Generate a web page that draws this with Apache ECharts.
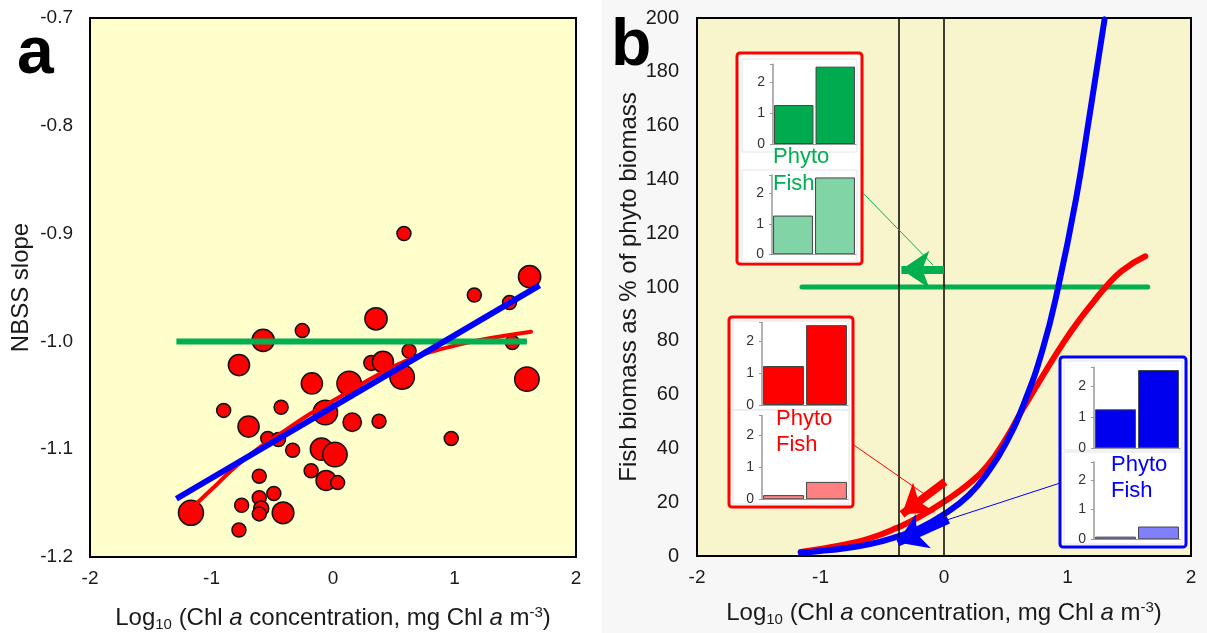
<!DOCTYPE html>
<html><head><meta charset="utf-8">
<script src="https://cdn.jsdelivr.net/npm/echarts@6/dist/echarts.min.js"></script>
<style>html,body{margin:0;padding:0;background:#fff}#c{width:1207px;height:633px}</style>
</head><body><div id="c"></div>
<script>
const FONT = '"Liberation Sans", Arial, sans-serif';

// ---------- Panel a data ----------
const aX = [-1.169,-0.774,-0.752,-0.607,-0.591,-0.607,-0.411,-0.487,-0.607,-0.900,
            -0.695,-0.774,-0.575,-0.253,-0.427,-0.537,-0.449,-0.332,-0.174,-0.063,
            -0.095,0.016,-0.180,-0.057,0.038,0.133,0.158,0.379,0.316,0.411,
            0.569,0.626,0.354,0.973,1.596,1.476,0.584,1.618,1.163,1.453];
const aY = [-1.159,-1.175,-1.152,-1.145,-1.155,-1.160,-1.159,-1.141,-1.125,-1.064,
            -1.079,-1.022,-0.999,-0.990,-1.061,-1.090,-1.091,-1.101,-1.039,-1.066,
            -1.100,-1.105,-1.120,-1.129,-1.131,-1.039,-1.075,-1.074,-1.020,-1.019,
            -1.033,-1.009,-0.979,-1.090,-1.035,-1.001,-0.900,-0.940,-0.957,-0.964];
// relative weight of each sample (0 = smallest bubble, 1 = largest)
const aWeight = [1.0,0,0,0,0.1,0,0.7,0,0,0,
                 0.65,0.65,0.75,0,0,0,0,0,0.65,0.95,
                 0.75,0.95,0,0.55,0,0.95,0.4,0,0.1,0.65,
                 0.95,0,0.75,0,0.95,0,0,0.75,0,0];
const aLinX = [-1.289, 1.700];
const aLinY = [-1.146, -0.948];
const aCurveX = [-1.11,-0.95,-0.8,-0.6,-0.4,-0.2,0,0.2,0.4,0.6,0.8,1.0,1.2,1.4,1.63];
const aCurveY = [-1.149,-1.132,-1.116,-1.098,-1.083,-1.068,-1.055,-1.042,-1.029,-1.018,-1.010,-1.004,-0.999,-0.995,-0.991];
const aRefX = [-1.289, 1.596];
const aRefY = [-1.0, -1.0];

// ---------- Panel b data ----------
const bBlueX = [-1.16,-1.0,-0.8,-0.6,-0.38,-0.2,0,0.2,0.35,0.5,0.65,0.8,0.925,1.066,1.176,1.30];
const bBlueY = [1.3,1.9,2.9,4.4,7.2,10.3,15.5,22.6,30.8,41.8,57,77,100,132,163,199.5];
const bRedX = [-1.16,-1.0,-0.8,-0.6,-0.38,-0.2,0,0.2,0.35,0.5,0.63,0.8,0.97,1.1,1.22,1.29,1.44,1.63];
const bRedY = [1.5,2.6,4.3,6.6,10.5,14.5,20.2,26.8,33.5,43.5,54,67,79.5,88,95,99,106,111.4];
const bRefX = [-1.15, 1.65];
const bRefY = [100, 100];
const bMarkX = [-0.372, 0];
// arrows: [x1, y1, x2, y2]
const arrowGreen = [0.0, 106.5, -0.345, 106.5];
const arrowRed   = [0.008, 27.6, -0.34, 15.5];
const arrowBlue  = [0.035, 13.4, -0.375, 5.0];
// connectors from insets to arrows
const connGreen = [-0.653, 134.8, -0.089, 108.2];
const connRed   = [-0.732, 41.3, -0.168, 23.3];
const connBlue  = [0.945, 27.2, -0.25, 9.3];

// ---------- Inset bar data ----------
const insetCats = ['low', 'high'];
const greenPhyto = [1.27, 2.52];
const greenFish  = [1.27, 2.52];
const redPhyto   = [1.23, 2.52];
const redFish    = [0.13, 0.54];
const bluePhyto  = [1.25, 2.51];
const blueFish   = [0.09, 0.43];

const xTicksA = [-2, 2, 1];
const yTicksA = [-1.2, -0.7, 0.1];
const yTicksB = [0, 200, 20];

const GREEN = '#00B050', RED = '#FF0000', BLUE = '#0000FF';

const chart = echarts.init(document.getElementById('c'), null, {renderer: 'canvas'});

const xName = '{n|Log}{s|10}{n| (Chl }{i|a}{n| concentration, mg Chl }{i|a}{n| m}{p|-3}{n|)}';
const nameRich = {
  n: {fontSize: 24, fontFamily: FONT, color: '#1a1a1a'},
  i: {fontSize: 24, fontFamily: FONT, color: '#1a1a1a', fontStyle: 'italic'},
  s: {fontSize: 15, fontFamily: FONT, color: '#1a1a1a', padding: [12, 0, 0, 0]},
  p: {fontSize: 15, fontFamily: FONT, color: '#1a1a1a', padding: [0, 0, 11, 0]}
};

function mainX(gi, gap) {
  return {
    type: 'value', gridIndex: gi, min: xTicksA[0], max: xTicksA[1], interval: xTicksA[2],
    axisLine: {show: false}, axisTick: {show: false}, splitLine: {show: false},
    axisLabel: {fontSize: 19, fontFamily: FONT, color: '#1a1a1a', margin: 12},
    name: xName, nameLocation: 'middle', nameGap: gap,
    nameTextStyle: {fontSize: 24, fontFamily: FONT, color: '#1a1a1a', rich: nameRich}
  };
}

const insetGrids = [
  {left: 773, top: 64.2, width: 83, height: 79.8},
  {left: 772, top: 175, width: 84, height: 79.3},
  {left: 762, top: 322.6, width: 86, height: 82.4},
  {left: 762, top: 415.6, width: 86, height: 83.7},
  {left: 1094, top: 367.2, width: 86, height: 81.1},
  {left: 1094, top: 462.1, width: 86, height: 77.2}
];
const insetData = [
  [greenPhyto, '#00AA4E'], [greenFish, '#80D4A6'],
  [redPhyto, '#FF0000'], [redFish, '#FF8080'],
  [bluePhyto, '#0000EE'], [blueFish, '#8080FF']
];

const grids = [
  {left: 90, top: 18, width: 486, height: 539, show: true, backgroundColor: '#FFFFCC', borderColor: '#000', borderWidth: 2},
  {left: 697, top: 18, width: 494, height: 538, show: true, backgroundColor: '#F8F5CC', borderColor: '#000', borderWidth: 2}
].concat(insetGrids).map(g => Object.assign({outerBoundsMode: 'none', containLabel: false}, g));

const xAxes = [mainX(0, 48), mainX(1, 44)];
const yAxes = [
  {type: 'value', gridIndex: 0, min: yTicksA[0], max: yTicksA[1], interval: yTicksA[2],
   axisLine: {show: false}, axisTick: {show: false}, splitLine: {show: false},
   axisLabel: {fontSize: 19, fontFamily: FONT, color: '#1a1a1a', margin: 17, formatter: v => v.toFixed(1)},
   name: 'NBSS slope', nameLocation: 'middle', nameGap: 57,
   nameTextStyle: {fontSize: 24, fontFamily: FONT, color: '#1a1a1a'}},
  {type: 'value', gridIndex: 1, min: yTicksB[0], max: yTicksB[1], interval: yTicksB[2],
   axisLine: {show: false}, axisTick: {show: false}, splitLine: {show: false},
   axisLabel: {fontSize: 20, fontFamily: FONT, color: '#1a1a1a', margin: 18},
   name: 'Fish biomass as % of phyto biomass', nameLocation: 'middle', nameGap: 56,
   nameTextStyle: {fontSize: 24, fontFamily: FONT, color: '#1a1a1a'}}
];
insetGrids.forEach((g, k) => {
  xAxes.push({type: 'category', gridIndex: 2 + k, data: insetCats, z: 8,
    axisLine: {show: true, lineStyle: {color: '#999', width: 1}}, axisTick: {show: false}, axisLabel: {show: false}});
  yAxes.push({type: 'value', gridIndex: 2 + k, min: 0, max: 2.6, interval: 1, z: 8,
    axisLine: {show: true, lineStyle: {color: '#999', width: 1.5}},
    axisTick: {show: true, length: 3, lineStyle: {color: '#999'}},
    splitLine: {show: false},
    axisLabel: {fontSize: 14, fontFamily: FONT, color: '#333', margin: 8,
      formatter: v => (v <= 2 ? String(v) : '')}});
});

const series = [];
// Panel a
series.push({
  type: 'scatter', xAxisIndex: 0, yAxisIndex: 0, z: 2,
  data: aX.map((x, i) => [x, aY[i], aWeight[i]]),
  symbolSize: d => 14 + 11 * d[2],
  itemStyle: {color: RED, borderColor: '#111', borderWidth: 1.5, opacity: 1}
});
series.push({type: 'line', xAxisIndex: 0, yAxisIndex: 0, z: 3, showSymbol: false, smooth: 0.5,
  data: aCurveX.map((x, i) => [x, aCurveY[i]]), lineStyle: {color: RED, width: 4, cap: 'round'}});
series.push({type: 'line', xAxisIndex: 0, yAxisIndex: 0, z: 3, showSymbol: false,
  data: aRefX.map((x, i) => [x, aRefY[i]]), lineStyle: {color: GREEN, width: 6}});
series.push({type: 'line', xAxisIndex: 0, yAxisIndex: 0, z: 4, showSymbol: false,
  data: aLinX.map((x, i) => [x, aLinY[i]]), lineStyle: {color: BLUE, width: 6}});

// Panel b
series.push({type: 'line', xAxisIndex: 1, yAxisIndex: 1, z: 2, showSymbol: false,
  data: bRefX.map((x, i) => [x, bRefY[i]]), lineStyle: {color: GREEN, width: 5, cap: 'round'}});
series.push({type: 'line', xAxisIndex: 1, yAxisIndex: 1, z: 3, showSymbol: false, smooth: 0.5,
  data: bRedX.map((x, i) => [x, bRedY[i]]), lineStyle: {color: RED, width: 6, cap: 'round'}});
series.push({type: 'line', xAxisIndex: 1, yAxisIndex: 1, z: 4, showSymbol: false, smooth: 0.5,
  data: bBlueX.map((x, i) => [x, bBlueY[i]]), lineStyle: {color: BLUE, width: 6, cap: 'round'},
  markLine: {silent: true, symbol: ['none', 'none'], label: {show: false},
    lineStyle: {color: '#000', width: 1.5, type: 'solid'},
    data: bMarkX.map(v => ({xAxis: v}))}});

function connector(c, color) {
  return {type: 'lines', coordinateSystem: 'cartesian2d', xAxisIndex: 1, yAxisIndex: 1, z: 5,
    data: [{coords: [[c[0], c[1]], [c[2], c[3]]]}],
    lineStyle: {color: color, width: 1, opacity: 1}};
}
function arrow(c, color) {
  return {type: 'lines', coordinateSystem: 'cartesian2d', xAxisIndex: 1, yAxisIndex: 1, z: 6,
    data: [{coords: [[c[0], c[1]], [c[2], c[3]]]}],
    symbol: ['none', 'arrow'], symbolSize: 28,
    lineStyle: {color: color, width: 8, opacity: 1, cap: 'butt'}};
}
series.push(connector(connGreen, GREEN), connector(connRed, RED), connector(connBlue, BLUE));
series.push(arrow(arrowGreen, GREEN), arrow(arrowRed, RED), arrow(arrowBlue, BLUE));

// Inset bars
insetData.forEach((d, k) => {
  series.push({type: 'bar', xAxisIndex: 2 + k, yAxisIndex: 2 + k, z: 5,
    data: d[0], barCategoryGap: '5%',
    itemStyle: {color: d[1], borderColor: '#444', borderWidth: 1}});
});

function frame(x, y, w, h, stroke) {
  return {type: 'rect', z: 1, shape: {x: x, y: y, width: w, height: h, r: 3},
    style: {fill: '#fff', stroke: stroke, lineWidth: 3}};
}
function panel(x, y, w, h) {
  return {type: 'rect', z: 1, shape: {x: x, y: y, width: w, height: h},
    style: {fill: '#fff', stroke: '#e4e4e4', lineWidth: 1}};
}
function label(x, y, t, color, size) {
  return {type: 'text', z: 10, x: x, y: y,
    style: {text: t, fill: color, font: size + 'px ' + FONT, textVerticalAlign: 'middle'}};
}

const graphic = [
  {type: 'rect', z: -10, shape: {x: 602, y: 0, width: 605, height: 633}, style: {fill: '#F7F7F7'}},
  {type: 'text', z: 0, x: 17, y: 55, style: {text: 'a', fill: '#000', font: 'bold 66px ' + FONT, textVerticalAlign: 'middle'}},
  {type: 'text', z: 0, x: 611, y: 47, style: {text: 'b', fill: '#000', font: 'bold 66px ' + FONT, textVerticalAlign: 'middle'}},
  frame(737, 53, 125, 211, RED),
  panel(742, 59, 115, 93), panel(742, 170, 115, 92),
  frame(729, 317, 124, 190, RED),
  panel(733, 321, 116, 89), panel(733, 410, 116, 94),
  frame(1060, 357, 126, 190, BLUE),
  panel(1064, 361, 118, 89), panel(1064, 452, 118, 92),
  label(773, 157, 'Phyto', GREEN, 22), label(773, 184, 'Fish', GREEN, 22),
  label(776, 419, 'Phyto', RED, 22), label(776, 445, 'Fish', RED, 22),
  label(1111, 465, 'Phyto', BLUE, 22), label(1111, 491, 'Fish', BLUE, 22)
];

chart.setOption({
  animation: false,
  backgroundColor: '#fff',
  grid: grids, xAxis: xAxes, yAxis: yAxes, series: series, graphic: graphic
});
</script></body></html>
